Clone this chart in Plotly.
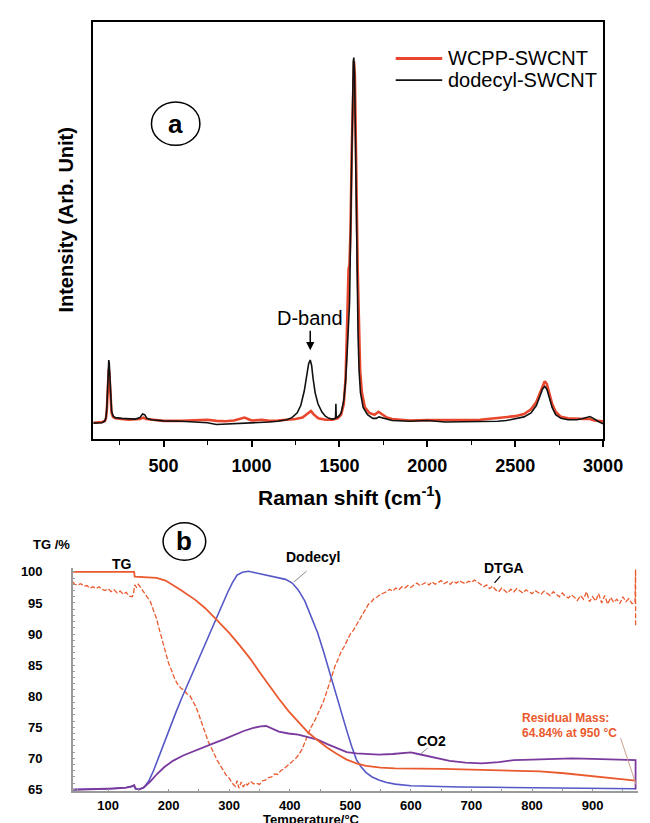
import plotly.graph_objects as go

# ---------------- Panel (a): Raman spectra ----------------
raman_shift_dodecyl = [100, 150, 166, 172, 177, 181, 185, 188, 191, 195, 199, 204, 212, 225, 260, 300, 340, 365,
                       380, 392, 405, 430, 500, 600, 700, 750, 800, 850, 900, 950, 1000, 1050, 1100, 1150, 1200,
                       1230, 1260, 1280, 1300, 1315, 1325, 1334, 1342, 1350, 1362, 1378, 1400, 1420, 1440, 1460,
                       1478, 1480, 1482, 1495, 1510, 1525, 1535, 1545, 1552, 1556, 1558, 1563, 1568, 1574, 1579,
                       1582, 1586, 1590, 1595, 1600, 1606, 1612, 1620, 1635, 1660, 1690, 1710, 1725, 1740, 1760,
                       1800, 1900, 2000, 2100, 2200, 2300, 2400, 2450, 2500, 2550, 2590, 2620, 2640, 2655, 2668,
                       2680, 2695, 2710, 2730, 2760, 2800, 2850, 2880, 2910, 2925, 2945, 2970, 3000]
intensity_dodecyl = [-0.003, -0.002, 0.003, 0.012, 0.04, 0.09, 0.145, 0.17, 0.16, 0.11, 0.06, 0.03, 0.017, 0.012,
                     0.01, 0.008, 0.008, 0.012, 0.022, 0.02, 0.01, 0.006, 0.003, 0.002, 0.0, -0.002, -0.007,
                     -0.006, -0.004, -0.003, -0.002, -0.003, 0.0, 0.002, 0.006, 0.012, 0.025, 0.045, 0.085, 0.13,
                     0.16, 0.17, 0.155, 0.12, 0.08, 0.05, 0.028, 0.016, 0.01, 0.008, 0.01, 0.05, 0.012, 0.015,
                     0.025, 0.06, 0.11, 0.2, 0.27, 0.29, 0.33, 0.5, 0.7, 0.9, 0.99, 1.0, 0.96, 0.82, 0.6, 0.4,
                     0.24, 0.14, 0.08, 0.04, 0.02, 0.01, 0.01, 0.014, 0.012, 0.008, 0.004, 0.002, 0.004, 0.0,
                     0.0, 0.0, 0.002, 0.004, 0.008, 0.014, 0.025, 0.045, 0.07, 0.09, 0.098, 0.09, 0.065, 0.04,
                     0.02, 0.01, 0.006, 0.006, 0.009, 0.014, 0.015, 0.01, 0.002, -0.005]

raman_shift_wcpp = [100, 150, 166, 172, 177, 181, 185, 188, 191, 195, 199, 204, 212, 225, 260, 300, 365, 385, 400,
                    450, 500, 600, 700, 750, 800, 850, 900, 940, 960, 980, 1000, 1060, 1100, 1150, 1200, 1250,
                    1290, 1320, 1338, 1355, 1380, 1420, 1460, 1490, 1510, 1525, 1535, 1543, 1548, 1552, 1557,
                    1563, 1570, 1577, 1583, 1588, 1593, 1598, 1604, 1610, 1618, 1628, 1645, 1670, 1700, 1722,
                    1740, 1770, 1800, 1900, 2000, 2100, 2200, 2300, 2400, 2450, 2500, 2550, 2590, 2620, 2640,
                    2655, 2668, 2680, 2695, 2710, 2730, 2760, 2800, 2850, 2900, 2925, 2950, 3000]
intensity_wcpp = [-0.002, 0.0, 0.003, 0.01, 0.032, 0.075, 0.125, 0.145, 0.135, 0.095, 0.05, 0.025, 0.014, 0.01,
                  0.008, 0.006, 0.008, 0.012, 0.008, 0.005, 0.003, 0.003, 0.004, 0.006, 0.003, 0.002, 0.004,
                  0.008, 0.012, 0.008, 0.004, 0.006, 0.003, 0.004, 0.006, 0.008, 0.012, 0.022, 0.03, 0.02, 0.01,
                  0.006, 0.006, 0.01, 0.02, 0.05, 0.12, 0.25, 0.38, 0.42, 0.43, 0.52, 0.74, 0.93, 0.99, 0.95,
                  0.82, 0.62, 0.42, 0.26, 0.14, 0.08, 0.04, 0.025, 0.02, 0.028, 0.022, 0.012, 0.008, 0.004,
                  0.005, 0.004, 0.005, 0.006, 0.01, 0.012, 0.016, 0.022, 0.035, 0.055, 0.08, 0.1, 0.112, 0.104,
                  0.08, 0.05, 0.028, 0.014, 0.01, 0.008, 0.008, 0.008, 0.004, 0.002]

raman_ticks = [500, 1000, 1500, 2000, 2500, 3000]

# ---------------- Panel (b): TGA ----------------
temp_tg = [42, 143, 144, 160, 180, 195, 207, 220, 244, 260, 281, 300, 318, 335, 350, 366, 382, 398, 414, 430,
           446, 462, 478, 494, 510, 526, 550, 574, 653, 733, 813, 853, 893, 930, 962, 971]
mass_tg = [100.0, 100.0, 99.25, 99.15, 99.05, 98.6, 97.9, 97.1, 95.5, 94.2, 92.1, 90.2, 88.1, 86.0, 83.9, 81.7,
           79.6, 77.6, 75.9, 74.2, 72.9, 71.7, 70.7, 69.8, 69.2, 68.8, 68.5, 68.4, 68.3, 68.1, 67.9, 67.6, 67.2,
           66.8, 66.5, 66.4]

temp_dtga = [42, 45, 50, 55, 60, 65, 70, 75, 80, 85, 90, 95, 100, 105, 110, 115, 120, 125, 130, 135, 140, 142,
             144, 147, 150, 155, 160, 165, 170, 175, 180, 185, 190, 195, 200, 205, 210, 215, 220, 225, 230, 235,
             240, 245, 250, 255, 260, 265, 270, 275, 280, 285, 290, 295, 300, 305, 310, 313, 316, 320, 323, 327,
             330, 335, 340, 345, 350, 355, 360, 365, 370, 375, 380, 385, 390, 395, 400, 405, 410, 415, 420, 425,
             430, 435, 440, 445, 450, 455, 460, 465, 470, 475, 480, 485, 490, 495, 500, 505, 510, 515, 520, 525,
             530, 535, 540, 545, 550, 555, 560, 565, 570, 575, 580, 585, 590, 595, 600, 605, 610, 615, 620, 625,
             630, 635, 640, 645, 650, 655, 660, 665, 670, 675, 680, 685, 690, 695, 700, 705, 710, 715, 720, 725,
             730, 735, 740, 745, 750, 755, 760, 765, 770, 775, 780, 785, 790, 795, 800, 805, 810, 815, 820, 825,
             830, 835, 840, 845, 850, 855, 860, 865, 870, 875, 880, 885, 890, 895, 900, 905, 910, 915, 920, 925,
             930, 935, 940, 945, 950, 955, 960, 965, 970, 971, 971]
signal_dtga = [98.4, 98.0, 97.9, 98.1, 97.7, 97.8, 97.4, 97.6, 97.3, 97.6, 97.2, 97.0, 97.3, 96.8, 97.1, 96.6,
               96.9, 96.4, 96.7, 96.1, 96.0, 96.5, 97.9, 97.5, 98.0, 97.3, 96.8, 96.0, 95.2, 93.8, 92.5, 90.6,
               88.9, 87.2, 85.3, 84.1, 82.8, 81.9, 81.3, 81.0, 80.4, 80.1, 79.2, 78.3, 77.0, 75.6, 74.1, 72.8,
               71.8, 70.6, 69.7, 68.9, 68.0, 67.3, 66.8, 66.0, 65.5, 66.4, 65.2, 66.2, 65.4, 66.0, 65.7, 66.3,
               65.9, 66.0, 65.8, 66.4, 66.5, 66.9, 67.0, 67.5, 67.4, 68.0, 68.3, 68.7, 69.2, 69.5, 70.0, 70.6,
               71.4, 72.6, 73.8, 75.0, 75.8, 76.8, 77.9, 79.0, 80.4, 82.0, 83.5, 84.9, 86.0, 87.2, 88.0, 89.0,
               90.0, 90.6, 91.4, 92.3, 93.2, 94.0, 94.8, 95.2, 95.8, 96.0, 96.4, 96.6, 96.8, 97.2, 96.9, 97.4,
               97.1, 97.6, 97.4, 97.8, 97.5, 97.9, 98.2, 97.8, 98.1, 98.3, 97.9, 98.4, 98.0, 98.3, 98.6, 98.1,
               98.4, 98.0, 98.5, 98.2, 98.6, 98.3, 98.1, 98.5, 98.3, 98.7, 98.4, 98.0, 97.6, 97.9, 97.3, 97.7,
               97.1, 96.8, 97.4, 97.0, 96.6, 97.2, 96.8, 97.3, 97.0, 96.6, 97.1, 96.8, 96.5, 97.0, 96.7, 96.4,
               96.9, 96.5, 96.2, 96.8, 96.4, 96.0, 96.6, 96.1, 95.8, 96.3, 95.9, 95.4, 96.2, 95.6, 96.8, 95.2,
               96.0, 95.3, 96.5, 95.0, 96.2, 94.8, 95.9, 95.1, 95.6, 94.9, 96.0, 95.2, 95.7, 94.9, 95.0, 100.4,
               91.1]

temp_dodecyl = [42, 100, 130, 140, 143, 145, 150, 159, 167, 175, 183, 191, 201, 212, 222, 233, 244, 255, 265,
                276, 287, 297, 305, 313, 322, 332, 341, 350, 360, 371, 382, 393, 404, 414, 425, 435, 446, 456,
                467, 478, 486, 494, 502, 510, 518, 526, 536, 547, 560, 574, 600, 627, 680, 733, 800, 866, 920, 971]
signal_dodecyl = [65.0, 65.1, 65.3, 65.5, 65.6, 65.1, 65.0, 65.3, 66.3, 68.0, 70.1, 72.2, 74.8, 77.4, 79.8, 82.3,
                  84.8, 87.2, 89.6, 92.1, 94.5, 96.6, 98.2, 99.5, 99.95, 100.1, 99.9, 99.7, 99.5, 99.3, 99.1,
                  98.8, 98.2, 97.1, 95.3, 92.9, 90.2, 87.1, 83.4, 79.6, 76.8, 74.5, 72.0, 69.8, 68.6, 67.7, 67.0,
                  66.5, 66.1, 65.85, 65.6, 65.5, 65.4, 65.35, 65.3, 65.25, 65.2, 65.1]

temp_co2 = [42, 80, 110, 130, 140, 143, 146, 152, 159, 170, 180, 193, 207, 225, 244, 260, 276, 292, 308, 324, 340,
            352, 361, 370, 382, 398, 414, 430, 446, 462, 478, 494, 510, 530, 547, 570, 590, 600, 612, 627, 645,
            664, 690, 717, 745, 770, 800, 830, 866, 900, 930, 967, 971, 971]
signal_co2 = [64.95, 65.0, 65.15, 65.3, 65.5, 65.7, 65.1, 65.0, 65.3, 66.3, 67.4, 68.6, 69.6, 70.5, 71.2, 71.9,
              72.5, 73.1, 73.8, 74.4, 74.9, 75.15, 75.2, 74.8, 74.3, 74.0, 73.8, 73.4, 73.0, 72.3, 71.7, 71.0,
              70.8, 70.7, 70.6, 70.7, 70.9, 70.95, 70.7, 70.4, 70.0, 69.6, 69.3, 69.2, 69.4, 69.7, 69.8, 69.9,
              70.0, 69.9, 69.8, 69.7, 69.7, 65.0]

tga_xticks = [100, 200, 300, 400, 500, 600, 700, 800, 900]
tga_yticks = [65, 70, 75, 80, 85, 90, 95, 100]

# ---------------- Figure ----------------
W, H = 650, 823
FONT = "Liberation Sans, Arial, sans-serif"
RED = "#e8472d"
TG_RED = "#ea5a2e"
BLUE = "#5558c6"
PURPLE = "#7a3a9e"
GREY = "#9a9a9a"


def px(x):
    return x / W


def py(y):
    return 1 - y / H


fig = go.Figure()

fig.add_trace(go.Scatter(x=raman_shift_wcpp, y=intensity_wcpp, mode="lines", name="WCPP-SWCNT",
                         line=dict(color=RED, width=2.6), xaxis="x", yaxis="y", showlegend=False))
fig.add_trace(go.Scatter(x=raman_shift_dodecyl, y=intensity_dodecyl, mode="lines", name="dodecyl-SWCNT",
                         line=dict(color="#111111", width=1.6), xaxis="x", yaxis="y", showlegend=False))

fig.add_trace(go.Scatter(x=temp_dtga, y=signal_dtga, mode="lines", name="DTGA",
                         line=dict(color=TG_RED, width=1.3, dash="5px,2px"), xaxis="x2", yaxis="y2",
                         showlegend=False))
fig.add_trace(go.Scatter(x=temp_dodecyl, y=signal_dodecyl, mode="lines", name="Dodecyl",
                         line=dict(color=BLUE, width=1.6), xaxis="x2", yaxis="y2", showlegend=False))
fig.add_trace(go.Scatter(x=temp_co2, y=signal_co2, mode="lines", name="CO2",
                         line=dict(color=PURPLE, width=1.8), xaxis="x2", yaxis="y2", showlegend=False))
fig.add_trace(go.Scatter(x=temp_tg, y=mass_tg, mode="lines", name="TG",
                         line=dict(color=TG_RED, width=1.8), xaxis="x2", yaxis="y2", showlegend=False))

fig.update_layout(
    width=W, height=H, autosize=False,
    margin=dict(l=0, r=0, t=0, b=0),
    paper_bgcolor="white", plot_bgcolor="white",
    font=dict(family=FONT, color="black"),
    xaxis=dict(domain=[px(88), px(614)], range=[100, 3000], anchor="y",
               showline=True, linecolor="black", linewidth=1.5, mirror=True,
               ticks="outside", ticklen=6, tickwidth=1.5, tickcolor="black",
               tickvals=raman_ticks, ticklabelstandoff=4,
               tickfont=dict(size=18, family=FONT, weight="bold"),
               minor=dict(dtick=250, tick0=0, ticks="outside", ticklen=4, tickwidth=1.3, tickcolor="black"),
               showgrid=False, zeroline=False),
    yaxis=dict(domain=[py(432), py(10)], range=[-0.046, 1.098], anchor="x",
               showline=True, linecolor="black", linewidth=1.5, mirror=True,
               ticks="", showticklabels=False, showgrid=False, zeroline=False),
    xaxis2=dict(domain=[px(67), 1.0], range=[42, 975], anchor="y2",
                showline=True, linecolor=GREY, linewidth=1.5,
                ticks="inside", ticklen=3, tickcolor=GREY, tickvals=tga_xticks,
                ticklabelstandoff=1,
                tickfont=dict(size=13, family=FONT, weight="bold"),
                minor=dict(dtick=50, tick0=0, ticks="inside", ticklen=3, tickcolor=GREY),
                showgrid=False, zeroline=False),
    yaxis2=dict(domain=[py(789), py(563)], range=[64.68, 100.6], anchor="x2",
                showline=True, linecolor=GREY, linewidth=1.5,
                ticks="inside", ticklen=2, tickcolor=GREY, tickvals=tga_yticks,
                ticklabelstandoff=26,
                tickfont=dict(size=13, family=FONT, weight="bold"),
                minor=dict(dtick=1, ticks="inside", ticklen=2, tickcolor=GREY),
                showgrid=False, zeroline=False),
)

ann = []
shapes = []

# Panel a titles
ann.append(dict(xref="paper", yref="paper", x=px(352), y=py(490), text="Raman shift (cm<sup>-1</sup>)",
                showarrow=False, font=dict(size=21, family=FONT, weight="bold"), xanchor="center", yanchor="middle"))
ann.append(dict(xref="paper", yref="paper", x=px(60), y=py(210), text="Intensity (Arb. Unit)", textangle=-90,
                showarrow=False, font=dict(size=20, family=FONT, weight="bold"), xanchor="center", yanchor="middle"))

# Legend of panel a
shapes.append(dict(type="line", xref="paper", yref="paper", x0=px(400), x1=px(448), y0=py(47), y1=py(47),
                   line=dict(color=RED, width=3)))
shapes.append(dict(type="line", xref="paper", yref="paper", x0=px(400), x1=px(448), y0=py(69), y1=py(69),
                   line=dict(color="#111111", width=1.6)))
ann.append(dict(xref="paper", yref="paper", x=px(452), y=py(47), text="WCPP-SWCNT", showarrow=False,
                font=dict(size=20, family=FONT), xanchor="left", yanchor="middle"))
ann.append(dict(xref="paper", yref="paper", x=px(452), y=py(69), text="dodecyl-SWCNT", showarrow=False,
                font=dict(size=20, family=FONT), xanchor="left", yanchor="middle"))

# circle a
shapes.append(dict(type="circle", xref="paper", yref="paper", x0=px(148), x1=px(198), y0=py(135), y1=py(91),
                   line=dict(color="black", width=1.5)))
ann.append(dict(xref="paper", yref="paper", x=px(173), y=py(113), text="a", showarrow=False,
                font=dict(size=26, family=FONT, weight="bold"), xanchor="center", yanchor="middle"))

# D-band label with a vertical arrow pointing at the D peak
ann.append(dict(xref="x", yref="y", x=1334, y=0.197, ax=0, ay=-32, text="D-band", showarrow=True,
                arrowhead=2, arrowsize=1.1, arrowwidth=1.5, arrowcolor="black", standoff=0,
                font=dict(size=20, family=FONT)))

# Panel b labels
bold14 = dict(size=14, family=FONT, weight="bold")
ann.append(dict(xref="paper", yref="paper", x=px(45), y=py(539), text="TG /%", showarrow=False,
                font=dict(size=13, family=FONT, weight="bold"), xanchor="center", yanchor="middle"))
ann.append(dict(xref="paper", yref="paper", x=px(118), y=py(559), text="TG", showarrow=False,
                font=bold14, xanchor="center", yanchor="middle"))
ann.append(dict(xref="paper", yref="paper", x=px(315), y=py(552), text="Dodecyl", showarrow=False,
                font=bold14, xanchor="center", yanchor="middle"))
ann.append(dict(xref="paper", yref="paper", x=px(512), y=py(563), text="DTGA", showarrow=False,
                font=bold14, xanchor="center", yanchor="middle"))
ann.append(dict(xref="paper", yref="paper", x=px(437), y=py(738), text="CO2", showarrow=False,
                font=bold14, xanchor="center", yanchor="middle"))
ann.append(dict(xref="paper", yref="paper", x=px(528), y=py(715), text="Residual Mass:", showarrow=False,
                font=dict(size=12, family=FONT, weight="bold", color=TG_RED), xanchor="left", yanchor="middle"))
ann.append(dict(xref="paper", yref="paper", x=px(528), y=py(730), text="64.84% at 950 °C", showarrow=False,
                font=dict(size=12, family=FONT, weight="bold", color=TG_RED), xanchor="left", yanchor="middle"))
ann.append(dict(xref="paper", yref="paper", x=px(313), y=py(816), text="Temperature/°C", showarrow=False,
                font=dict(size=13, family=FONT, weight="bold"), xanchor="center", yanchor="top", yshift=8))

# circle b
shapes.append(dict(type="circle", xref="paper", yref="paper", x0=px(160), x1=px(204), y0=py(555), y1=py(517),
                   line=dict(color="black", width=1.5)))
ann.append(dict(xref="paper", yref="paper", x=px(182), y=py(536), text="b", showarrow=False,
                font=dict(size=26, family=FONT, weight="bold"), xanchor="center", yanchor="middle"))

# leader lines
shapes.append(dict(type="line", xref="paper", yref="paper", x0=px(295), y0=py(577), x1=px(308), y1=py(566),
                   line=dict(color="#888888", width=1)))
shapes.append(dict(type="line", xref="paper", yref="paper", x0=px(502), y0=py(578), x1=px(508), y1=py(571),
                   line=dict(color="black", width=1.2)))
shapes.append(dict(type="line", xref="paper", yref="paper", x0=px(426), y0=py(751), x1=px(433), y1=py(745),
                   line=dict(color="#888888", width=1)))
shapes.append(dict(type="line", xref="paper", yref="paper", x0=px(632), y0=py(735), x1=px(648), y1=py(782),
                   line=dict(color="#c9a090", width=1)))

fig.update_layout(annotations=ann, shapes=shapes)

fig.write_html("out.html")
